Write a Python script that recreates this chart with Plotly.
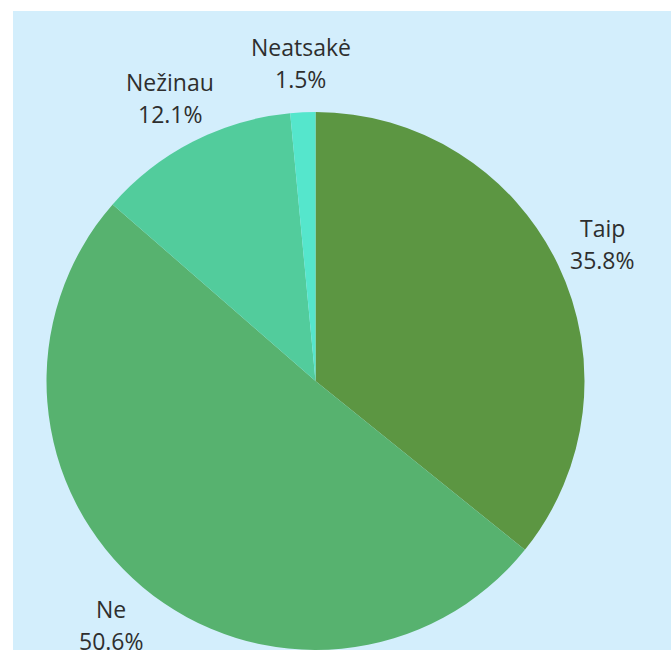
import math
import plotly.graph_objects as go

labels = ["Taip", "Ne", "Nežinau", "Neatsakė"]
values = [35.8, 50.6, 12.1, 1.5]
colors = ["#5C9642", "#57B26F", "#52CC9C", "#55E6CC"]

W, H = 671, 650
cx, cy, r = 315.5, 381, 269
label_r = r + 49
line_gap = 16
font = dict(family="Open Sans", size=23, color="#2E2E2E")

fig = go.Figure(go.Pie(
    labels=labels,
    values=values,
    sort=False,
    direction="clockwise",
    rotation=0,
    marker=dict(colors=colors, line=dict(width=0)),
    textinfo="none",
    showlegend=False,
    hoverinfo="skip",
    domain=dict(x=[(cx - r) / W, (cx + r) / W], y=[0, (2 * r) / H]),
))

total = sum(values)
annotations = []
acc = 0.0
for lab, v in zip(labels, values):
    mid = (acc + v / 2) / total * 2 * math.pi
    acc += v
    px = cx + label_r * math.sin(mid)
    py = cy - label_r * math.cos(mid)
    pct = f"{v / total * 100:.1f}%"
    for txt, dy in ((lab, -line_gap), (pct, line_gap)):
        annotations.append(dict(
            x=px / W, y=1 - (py + dy) / H, xref="paper", yref="paper",
            text=txt, showarrow=False, xanchor="center", yanchor="middle",
            font=font,
        ))

fig.update_layout(
    width=W, height=H,
    margin=dict(l=0, r=0, t=0, b=0),
    paper_bgcolor="white",
    font=font,
    annotations=annotations,
    shapes=[dict(type="rect", xref="paper", yref="paper",
                 x0=13 / W, x1=1, y0=0, y1=1 - 11 / H,
                 fillcolor="#D3EEFC", line=dict(width=0), layer="below")],
)

fig.write_html("out.html",
               config={"displayModeBar": False},
               post_script="document.body.style.margin='0';document.body.style.overflow='hidden';")
